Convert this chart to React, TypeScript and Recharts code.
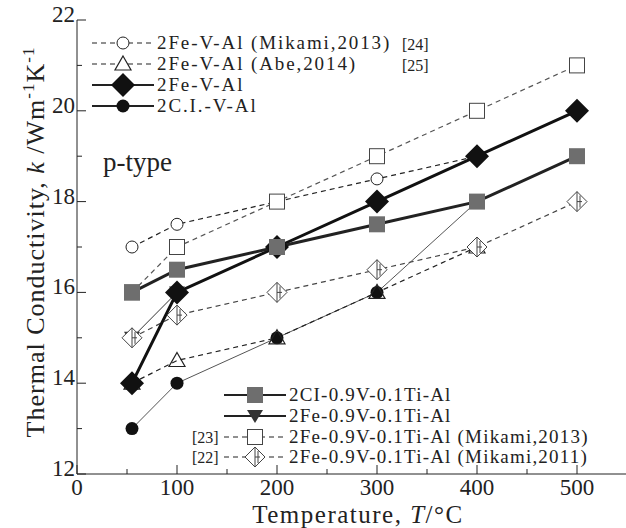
import React from "react";
import { LineChart, Line, XAxis, YAxis } from "recharts";

// temperature (°C) / thermal conductivity (W m-1 K-1)
const mikami2013VAl = [
  { T: 55, k: 17 },
  { T: 100, k: 17.5 },
  { T: 200, k: 18 },
  { T: 300, k: 18.5 },
  { T: 400, k: 19 },
];
const abe2014VAl = [
  { T: 55, k: 14 },
  { T: 100, k: 14.5 },
  { T: 200, k: 15 },
  { T: 300, k: 16 },
  { T: 400, k: 17 },
];
const feVAl = [
  { T: 55, k: 14 },
  { T: 100, k: 16 },
  { T: 200, k: 17 },
  { T: 300, k: 18 },
  { T: 400, k: 19 },
  { T: 500, k: 20 },
];
const ciVAl = [
  { T: 55, k: 13 },
  { T: 100, k: 14 },
  { T: 200, k: 15 },
  { T: 300, k: 16 },
  { T: 400, k: 18 },
];
const ciTiAl = [
  { T: 55, k: 16 },
  { T: 100, k: 16.5 },
  { T: 200, k: 17 },
  { T: 300, k: 17.5 },
  { T: 400, k: 18 },
  { T: 500, k: 19 },
];
const feTiAl = [
  { T: 55, k: 15 },
  { T: 100, k: 16 },
];
const mikami2013TiAl = [
  { T: 55, k: 16 },
  { T: 100, k: 17 },
  { T: 200, k: 18 },
  { T: 300, k: 19 },
  { T: 400, k: 20 },
  { T: 500, k: 21 },
];
const mikami2011TiAl = [
  { T: 55, k: 15 },
  { T: 100, k: 15.5 },
  { T: 200, k: 16 },
  { T: 300, k: 16.5 },
  { T: 400, k: 17 },
  { T: 500, k: 18 },
];

const xTicks = [0, 50, 100, 150, 200, 250, 300, 350, 400, 450, 500, 550];
const yTicks = [12, 13, 14, 15, 16, 17, 18, 19, 20, 21, 22];

const FONT = '"Liberation Serif", "Times New Roman", serif';
const INK = "#222";

// ---- marker shapes ----
const OpenCircle = ({ cx, cy }) => (
  <circle cx={cx} cy={cy} r={6} fill="#fff" stroke={INK} strokeWidth={1} />
);
const OpenTriangle = ({ cx, cy, fill = "none" }) => (
  <path
    d={`M${cx},${cy - 8} L${cx + 8},${cy + 6} L${cx - 8},${cy + 6} Z`}
    fill={fill}
    stroke={INK}
    strokeWidth={1.2}
  />
);
const FilledDiamond = ({ cx, cy }) => (
  <path
    d={`M${cx},${cy - 12} L${cx + 12},${cy} L${cx},${cy + 12} L${cx - 12},${cy} Z`}
    fill="#111"
  />
);
const FilledCircle = ({ cx, cy }) => <circle cx={cx} cy={cy} r={6.5} fill="#111" />;
const GraySquare = ({ cx, cy }) => (
  <rect x={cx - 8} y={cy - 8} width={16} height={16} fill="#6e6e6e" />
);
const TriangleDown = ({ cx, cy }) => (
  <path d={`M${cx - 8},${cy - 6} L${cx + 8},${cy - 6} L${cx},${cy + 7} Z`} fill="#333" />
);
const OpenSquare = ({ cx, cy }) => (
  <rect x={cx - 7.5} y={cy - 7.5} width={15} height={15} fill="#fff" stroke="#444" strokeWidth={1} />
);
const HalfDiamond = ({ cx, cy }) => (
  <g stroke="#444" strokeWidth={1} fill="#fff">
    <path d={`M${cx},${cy - 10} L${cx + 10},${cy} L${cx},${cy + 10} L${cx - 10},${cy} Z`} />
    <line x1={cx} y1={cy - 10} x2={cx} y2={cy + 10} />
    <line x1={cx + 3} y1={cy - 6} x2={cx + 3} y2={cy + 6} />
    <line x1={cx} y1={cy} x2={cx + 5} y2={cy} />
  </g>
);

const dotOf = (Shape) => (props) =>
  props.cx == null ? <g key={props.index} /> : <Shape key={props.index} cx={props.cx} cy={props.cy} />;

// ---- axis ticks drawn inward ----
const BottomTick = ({ x, y, payload }) => {
  const major = payload.value % 100 === 0;
  return (
    <g>
      <line x1={x} y1={y} x2={x} y2={y - (major ? 9 : 5)} stroke={INK} strokeWidth={1} />
      {major && payload.value <= 500 && (
        <text x={x} y={y + 21} textAnchor="middle" fontFamily={FONT} fontSize={23} fill={INK}>
          {payload.value}
        </text>
      )}
    </g>
  );
};
const TopTick = ({ x, y, payload }) => {
  const major = payload.value % 100 === 0;
  return <line x1={x} y1={y} x2={x} y2={y + (major ? 9 : 5)} stroke={INK} strokeWidth={1} />;
};
const LeftTick = ({ x, y, payload }) => {
  const major = payload.value % 2 === 0;
  return (
    <g>
      <line x1={x} y1={y} x2={x + (major ? 9 : 5)} y2={y} stroke={INK} strokeWidth={1} />
      {major && (
        <text x={x - 2} y={y + 2} textAnchor="end" fontFamily={FONT} fontSize={23} fill={INK}>
          {payload.value}
        </text>
      )}
    </g>
  );
};

const LegendRow = ({ x, y, Shape, dashed, width = 1.2, label, spacing = 1.2, stroke = INK }) => (
  <g>
    <line
      x1={x}
      y1={y}
      x2={x + 62}
      y2={y}
      stroke={stroke}
      strokeWidth={width}
      strokeDasharray={dashed ? "5 4" : undefined}
    />
    <Shape cx={x + 31} cy={y} fill="#fff" />
    <text x={x + 65} y={y + 6} fontFamily={FONT} fontSize={19} letterSpacing={spacing} fill={INK}>
      {label}
    </text>
  </g>
);

const App = () => {
  return (
    <div
      style={{
        position: "absolute",
        left: 0,
        top: 0,
        width: 626,
        height: 528,
        overflow: "hidden",
        background: "#fff",
      }}
    >
      <LineChart width={640} height={528} margin={{ top: 20, right: 13, bottom: 24, left: 17 }}>
        <XAxis
          type="number"
          dataKey="T"
          domain={[0, 550]}
          ticks={xTicks}
          interval={0}
          height={30}
          tickSize={0}
          tickMargin={0}
          axisLine={{ stroke: INK }}
          tick={BottomTick}
        />
        <XAxis
          xAxisId="top"
          orientation="top"
          type="number"
          dataKey="T"
          domain={[0, 550]}
          ticks={xTicks}
          interval={0}
          height={0}
          tickSize={0}
          tickMargin={0}
          axisLine={{ stroke: INK }}
          tick={TopTick}
        />
        <YAxis
          type="number"
          dataKey="k"
          domain={[12, 22]}
          ticks={yTicks}
          interval={0}
          width={60}
          tickSize={0}
          tickMargin={0}
          axisLine={{ stroke: INK }}
          tick={LeftTick}
        />
        <Line data={ciVAl} dataKey="k" stroke="#555" strokeWidth={1} dot={dotOf(FilledCircle)} isAnimationActive={false} />
        <Line data={feTiAl} dataKey="k" stroke="#333" strokeWidth={1} dot={dotOf(TriangleDown)} isAnimationActive={false} />
        <Line data={abe2014VAl} dataKey="k" stroke={INK} strokeWidth={1.2} strokeDasharray="5 4" dot={dotOf(OpenTriangle)} isAnimationActive={false} />
        <Line data={mikami2011TiAl} dataKey="k" stroke="#444" strokeWidth={1.2} strokeDasharray="5 4" dot={dotOf(HalfDiamond)} isAnimationActive={false} />
        <Line data={mikami2013VAl} dataKey="k" stroke={INK} strokeWidth={1.2} strokeDasharray="5 4" dot={dotOf(OpenCircle)} isAnimationActive={false} />
        <Line data={mikami2013TiAl} dataKey="k" stroke="#555" strokeWidth={1.2} strokeDasharray="5 4" dot={dotOf(OpenSquare)} isAnimationActive={false} />
        <Line data={feVAl} dataKey="k" stroke="#111" strokeWidth={3} dot={dotOf(FilledDiamond)} isAnimationActive={false} />
        <Line data={ciTiAl} dataKey="k" stroke="#222" strokeWidth={3} dot={dotOf(GraySquare)} isAnimationActive={false} />
      </LineChart>

      <svg
        width={626}
        height={528}
        style={{ position: "absolute", left: 0, top: 0, pointerEvents: "none" }}
      >
        {/* axis titles */}
        <text
          transform="translate(44,242) rotate(-90)"
          textAnchor="middle"
          fontFamily={FONT}
          fontSize={26}
          letterSpacing={1}
          fill={INK}
        >
          Thermal Conductivity, <tspan fontStyle="italic">k</tspan> /Wm
          <tspan dy={-10} fontSize={17}>-1</tspan>
          <tspan dy={10}>K</tspan>
          <tspan dy={-10} fontSize={17}>-1</tspan>
        </text>
        <text
          x={358}
          y={523}
          textAnchor="middle"
          fontFamily={FONT}
          fontSize={25}
          letterSpacing={1.5}
          fill={INK}
        >
          Temperature,  <tspan fontStyle="italic">T</tspan>/°C
        </text>

        <text x={103} y={171} fontFamily={FONT} fontSize={27} fill={INK}>
          p-type
        </text>

        {/* upper legend */}
        <LegendRow x={92} y={43} spacing={1.9} Shape={OpenCircle} dashed label="2Fe-V-Al (Mikami,2013)" />
        <LegendRow x={92} y={64} spacing={1.9} Shape={OpenTriangle} dashed label="2Fe-V-Al (Abe,2014)" />
        <LegendRow x={92} y={85} spacing={1.9} Shape={FilledDiamond} width={2} label="2Fe-V-Al" />
        <LegendRow x={92} y={106} spacing={1.9} Shape={FilledCircle} width={2} label="2C.I.-V-Al" />
        <text x={402} y={50} fontFamily={FONT} fontSize={16} fill={INK}>[24]</text>
        <text x={402} y={71} fontFamily={FONT} fontSize={16} fill={INK}>[25]</text>

        {/* lower legend */}
        <LegendRow x={224} y={395} Shape={GraySquare} width={2} label="2CI-0.9V-0.1Ti-Al" />
        <LegendRow x={224} y={416} Shape={TriangleDown} width={2} label="2Fe-0.9V-0.1Ti-Al" />
        <LegendRow x={224} y={437} Shape={OpenSquare} dashed label="2Fe-0.9V-0.1Ti-Al (Mikami,2013)" />
        <LegendRow x={224} y={457} Shape={HalfDiamond} dashed label="2Fe-0.9V-0.1Ti-Al (Mikami,2011)" />
        <text x={192} y={443} fontFamily={FONT} fontSize={16} fill={INK}>[23]</text>
        <text x={192} y={463} fontFamily={FONT} fontSize={16} fill={INK}>[22]</text>
      </svg>
    </div>
  );
};

export default App;
